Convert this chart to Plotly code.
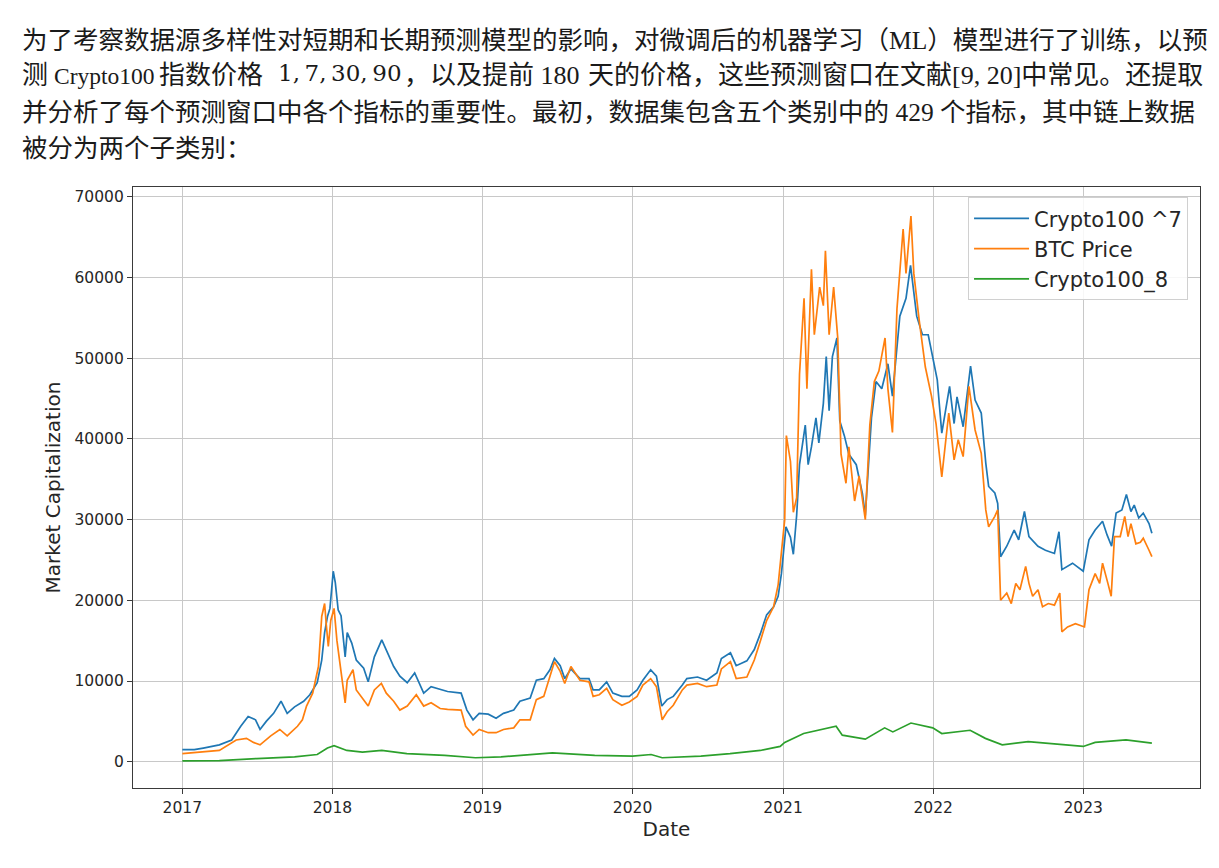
import plotly.graph_objects as go

# ---------------- data ----------------
c100_7_dates = ["2017-01-01","2017-01-30","2017-02-21","2017-04-01","2017-05-01","2017-05-23","2017-06-10","2017-06-28",
"2017-07-09","2017-07-24","2017-08-11","2017-08-29","2017-09-13","2017-10-01","2017-10-23","2017-11-07","2017-11-25",
"2017-12-06","2017-12-13","2017-12-20","2017-12-26","2018-01-03","2018-01-08","2018-01-15","2018-01-22","2018-02-01",
"2018-02-06","2018-02-17","2018-02-28","2018-03-18","2018-03-29","2018-04-13","2018-05-01","2018-05-12","2018-05-30",
"2018-06-14","2018-07-02","2018-07-20","2018-08-11","2018-08-29","2018-09-20","2018-10-08","2018-11-10","2018-11-24",
"2018-12-09","2018-12-24","2019-01-15","2019-02-03","2019-02-21","2019-03-18","2019-04-02","2019-04-27","2019-05-12",
"2019-05-30","2019-06-14","2019-06-25","2019-07-09","2019-07-20","2019-08-04","2019-08-26","2019-09-17","2019-09-27",
"2019-10-12","2019-10-30","2019-11-14","2019-12-06","2019-12-24","2020-01-12","2020-01-26","2020-02-14","2020-02-28",
"2020-03-12","2020-03-25","2020-04-09","2020-05-01","2020-05-12","2020-06-07","2020-06-29","2020-07-24","2020-08-04",
"2020-08-26","2020-09-09","2020-10-05","2020-10-23","2020-11-07","2020-11-22","2020-12-09","2020-12-20","2020-12-28",
"2021-01-08","2021-01-19","2021-01-26","2021-02-03","2021-02-10","2021-02-24","2021-03-03","2021-03-11","2021-03-22",
"2021-03-29","2021-04-09","2021-04-16","2021-04-23","2021-05-01","2021-05-12","2021-05-19","2021-05-30","2021-06-10",
"2021-06-28","2021-07-13","2021-07-20","2021-08-04","2021-08-15","2021-08-29","2021-09-13","2021-09-24","2021-10-12",
"2021-10-27","2021-11-07","2021-11-22","2021-12-06","2021-12-20","2022-01-11","2022-01-22","2022-02-10","2022-02-21",
"2022-02-28","2022-03-15","2022-04-02","2022-04-13","2022-04-28","2022-05-09","2022-05-16","2022-05-31","2022-06-07",
"2022-06-14","2022-06-29","2022-07-17","2022-07-28","2022-08-11","2022-08-22","2022-09-13","2022-10-01","2022-10-23",
"2022-11-03","2022-11-10","2022-12-06","2023-01-01","2023-01-15","2023-01-30","2023-02-17","2023-02-28","2023-03-11",
"2023-03-22","2023-04-05","2023-04-16","2023-04-27","2023-05-05","2023-05-16","2023-05-27","2023-06-10","2023-06-17"]
c100_7_values = [1500,1500,1700,2100,2700,4400,5600,5200,
4000,5000,6000,7500,6000,6800,7500,8300,9800,
12600,16000,18000,19000,23600,22200,18800,18100,13000,
16000,14700,12600,11600,9900,13000,15100,13900,11800,
10600,9800,11000,8500,9300,9000,8700,8500,6400,
5200,6000,5900,5400,6000,6400,7500,7900,10100,
10300,11400,12800,11900,10300,11500,10300,10300,8900,
8900,9900,8500,8100,8100,8900,10100,11400,10600,
6900,7700,8100,9500,10300,10500,10100,11000,12800,
13500,11900,12500,13900,15900,18200,19200,20500,23300,
29100,27800,25700,30500,36800,41700,36800,39000,42600,
39500,44400,50200,43500,50200,52500,42200,40400,38100,
36800,33200,30500,42600,47100,46200,49300,45300,55200,
57400,61500,55200,52900,52900,47300,40700,46500,41900,
45200,41500,49000,44800,43200,37000,34100,33300,32000,
25400,26700,28700,27500,31000,27900,26700,26200,25800,
28500,23800,24600,23600,27500,28700,29800,28100,26700,
30800,31200,33100,31000,31800,30200,30800,29500,28300]

btc_dates = ["2017-01-01","2017-02-21","2017-04-01","2017-05-12","2017-06-06","2017-06-23","2017-07-09","2017-08-04",
"2017-08-26","2017-09-13","2017-10-08","2017-10-20","2017-10-30","2017-11-14","2017-11-28","2017-12-06","2017-12-13",
"2017-12-17","2017-12-22","2017-12-28","2018-01-05","2018-01-12","2018-01-22","2018-02-01","2018-02-06","2018-02-20",
"2018-02-28","2018-03-29","2018-04-13","2018-04-30","2018-05-12","2018-05-30","2018-06-14","2018-07-02","2018-07-24",
"2018-08-11","2018-08-29","2018-09-20","2018-10-08","2018-11-10","2018-11-21","2018-12-09","2018-12-24","2019-01-15",
"2019-02-03","2019-02-21","2019-03-18","2019-04-02","2019-04-27","2019-05-12","2019-05-30","2019-06-14","2019-06-25",
"2019-07-09","2019-07-20","2019-08-04","2019-08-26","2019-09-17","2019-09-27","2019-10-12","2019-10-30","2019-11-14",
"2019-12-06","2019-12-24","2020-01-12","2020-01-26","2020-02-14","2020-02-28","2020-03-13","2020-03-25","2020-04-09",
"2020-05-01","2020-05-12","2020-06-07","2020-06-29","2020-07-24","2020-08-04","2020-08-26","2020-09-09","2020-10-05",
"2020-10-23","2020-11-07","2020-11-22","2020-12-09","2020-12-20","2021-01-05","2021-01-09","2021-01-19","2021-01-26",
"2021-02-03","2021-02-10","2021-02-21","2021-02-28","2021-03-11","2021-03-18","2021-03-31","2021-04-09","2021-04-14",
"2021-04-23","2021-05-04","2021-05-14","2021-05-22","2021-06-03","2021-06-10","2021-06-24","2021-07-05","2021-07-20",
"2021-07-31","2021-08-11","2021-08-22","2021-09-06","2021-09-13","2021-09-24","2021-10-05","2021-10-20","2021-10-27",
"2021-11-08","2021-11-15","2021-11-28","2021-12-13","2021-12-28","2022-01-08","2022-01-22","2022-02-08","2022-02-21",
"2022-03-03","2022-03-15","2022-03-29","2022-04-13","2022-04-28","2022-05-09","2022-05-16","2022-05-31","2022-06-07",
"2022-06-14","2022-06-29","2022-07-10","2022-07-21","2022-07-31","2022-08-14","2022-08-22","2022-08-31","2022-09-13",
"2022-09-24","2022-10-08","2022-10-23","2022-11-05","2022-11-10","2022-11-24","2022-12-13","2023-01-04","2023-01-15",
"2023-01-30","2023-02-10","2023-02-17","2023-03-02","2023-03-10","2023-03-18","2023-04-01","2023-04-12","2023-04-20",
"2023-04-27","2023-05-09","2023-05-20","2023-05-27","2023-06-10","2023-06-17"]
btc_values = [1000,1200,1400,2700,2900,2400,2100,3200,
4000,3200,4400,5200,6900,8500,11800,18000,19600,
17000,14300,17500,19000,15000,11000,7300,10100,11400,
8900,6900,8900,9700,8500,7500,6400,6900,8300,
6900,7300,6600,6500,6400,4400,3300,4000,3600,
3600,4000,4200,5200,5200,7700,8100,10600,12400,
11200,9700,11800,10100,9900,8100,8300,9100,7700,
7000,7400,8100,9500,10300,9300,5200,6200,7000,
8900,9500,9700,9300,9500,11500,12400,10300,10500,
12600,15000,17500,19200,21900,30000,40400,37200,30900,
32700,48000,57400,46200,61000,52900,58800,56500,63300,
52900,58800,52500,38100,34500,39000,32300,35400,30000,
41700,47100,48400,52500,46200,40800,56100,66000,60500,
67600,60500,54700,48900,45300,41900,35300,43200,37400,
39900,37800,46500,41100,38200,31200,29100,30400,31200,
20000,20900,19600,22100,21300,24200,22100,20500,21300,
19200,19600,19400,20900,16100,16700,17100,16700,21300,
23300,22100,24600,22100,20500,27900,27900,30400,27900,
29500,27000,27200,27700,26200,25400]

c100_8_dates = ["2017-01-01","2017-04-01","2017-07-01","2017-10-01","2017-11-25","2017-12-20","2018-01-05","2018-02-05",
"2018-03-15","2018-05-01","2018-07-01","2018-10-01","2018-12-15","2019-02-15","2019-06-20","2019-10-01","2020-01-01",
"2020-02-15","2020-03-13","2020-06-15","2020-08-25","2020-11-07","2020-12-25","2021-01-05","2021-02-20","2021-04-10",
"2021-05-10","2021-05-25","2021-07-20","2021-09-05","2021-09-25","2021-11-08","2021-12-31","2022-01-22","2022-04-01",
"2022-05-08","2022-06-18","2022-08-20","2022-11-10","2023-01-01","2023-01-30","2023-04-15","2023-06-17"]
c100_8_values = [100,150,400,600,900,1700,2000,1400,
1200,1400,1000,800,500,600,1100,800,700,
900,500,700,1000,1400,1900,2400,3500,4000,
4400,3300,2800,4200,3700,4800,4200,3500,3900,
2900,2100,2500,2100,1900,2400,2700,2300]

series_names = ["Crypto100 ^7", "BTC Price", "Crypto100_8"]
series_colors = ["#1f77b4", "#ff7f0e", "#2ca02c"]
y_ticks = [0, 10000, 20000, 30000, 40000, 50000, 60000, 70000]
x_ticks = ["2017-01-01","2018-01-01","2019-01-01","2020-01-01","2021-01-01","2022-01-01","2023-01-01"]
x_tick_labels = ["2017","2018","2019","2020","2021","2022","2023"]

# ---------------- figure ----------------
W, H = 1219, 868
L, R, T, B = 133, 1200, 187, 788

fig = go.Figure()
for d, v, n, c in zip([c100_7_dates, btc_dates, c100_8_dates],
                      [c100_7_values, btc_values, c100_8_values],
                      series_names, series_colors):
    fig.add_trace(go.Scatter(x=d, y=v, name=n, mode="lines",
                             line=dict(color=c, width=1.7)))

axis_common = dict(showline=True, mirror=True, linecolor="#3a3a3a", linewidth=1.3,
                   showgrid=True, gridcolor="#c8c8c8", gridwidth=1,
                   ticks="outside", ticklen=5, tickcolor="#3a3a3a", zeroline=False,
                   tickfont=dict(family="DejaVu Sans", size=15.5, color="#262626"))

fig.update_layout(
    width=W, height=H,
    margin=dict(l=L, r=W - R, t=T, b=H - B),
    paper_bgcolor="white", plot_bgcolor="white",
    font=dict(family="DejaVu Sans", color="#262626"),
    xaxis=dict(range=["2016-09-03", "2023-10-12"], tickvals=x_ticks, ticktext=x_tick_labels,
               title=dict(text="Date", font=dict(size=20, color="#262626"), standoff=6),
               **axis_common),
    yaxis=dict(range=[-3250, 71200], tickvals=y_ticks, tickformat="d",
               title=dict(text="Market Capitalization", font=dict(size=20, color="#262626"), standoff=8),
               **axis_common),
    legend=dict(x=0.9888, y=0.983, xanchor="right", yanchor="top",
                bgcolor="rgba(255,255,255,0.85)", bordercolor="#d0d0d0", borderwidth=1,
                font=dict(family="DejaVu Sans", size=21, color="#262626"),
                itemwidth=55),
    showlegend=True,
)

# ---------------- paragraph text above the chart ----------------
def px_x(px):
    return (px - L) / (R - L)

def px_y(py):
    return (B - py) / (B - T)

TXT_FONT = "Liberation Serif, Noto Sans CJK SC, serif"
MATH = '<span style="font-family:DejaVu Serif;font-size:23px">{}</span>'
text_chunks = [
    # (text, x pixel, anchor, y pixel, size)
    ("为了考察数据源多样性对短期和长期预测模型的影响，对微调后的机器学习（ML）模型进行了训练，以预", 20, "left", 40, 25.5),
    ("测", 20, "left", 76, 26),
    ("Crypto100", 52, "left", 76, 23.5),
    ("指数价格", 157, "left", 76, 26),
    (MATH.format("1,\u20097,\u200930,\u200990"), 276, "left", 73, 26),
    ("，以及提前 180", 402, "left", 76, 26),
    ("天的价格，这些预测窗口在文献[9, 20]中常见。还提取", 1205, "right", 76, 26),
    ("并分析了每个预测窗口中各个指标的重要性。最初，数据集包含五个类别中的 429 个指标，其中链上数据", 20, "left", 112, 25.5),
    ("被分为两个子类别：", 20, "left", 148, 25.5),
]
for txt, xp, anc, yp, sz in text_chunks:
    fig.add_annotation(text=txt, xref="paper", yref="paper", x=px_x(xp), y=px_y(yp),
                       xanchor=anc, yanchor="middle", showarrow=False,
                       font=dict(family=TXT_FONT, size=sz, color="#1a1a1a"))

fig.write_html("out.html")
